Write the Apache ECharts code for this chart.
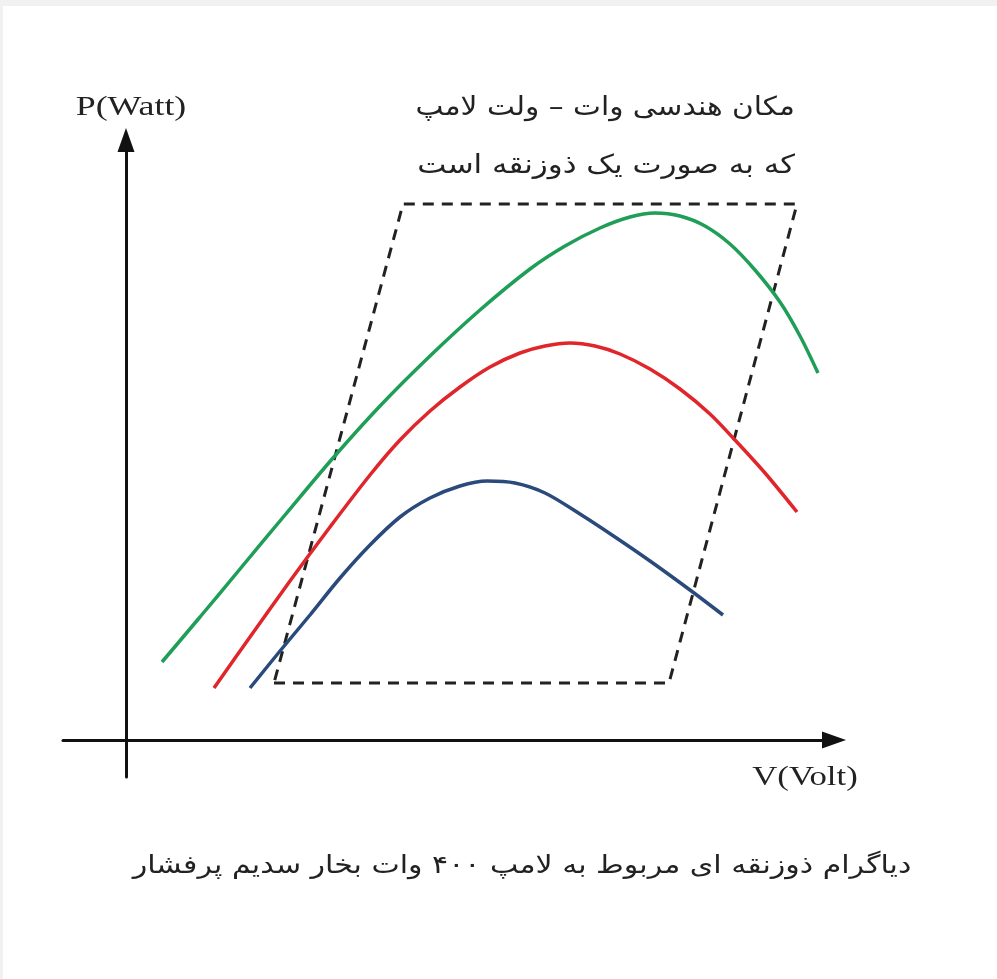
<!DOCTYPE html>
<html>
<head>
<meta charset="utf-8">
<script src="https://cdn.jsdelivr.net/npm/echarts@6/dist/echarts.min.js"></script>
<style>
html, body { margin: 0; padding: 0; background: #fff; }
#main { width: 997px; height: 979px; }
</style>
</head>
<body>
<div id="main"></div>
<script>
// خوانده شده از تصویر (واحد دلخواه)
var greenCurve = [[3.6, 7.8], [7.4, 12.3], [11.4, 17.1], [15.9, 22.5], [20.7, 28.2], [25.4, 33.4], [30.4, 38.4], [35.4, 43.0], [40.4, 47.1], [43.9, 49.4], [47.4, 51.2], [50.4, 52.3], [52.9, 52.7], [55.4, 52.4], [57.9, 51.4], [60.4, 49.6], [62.9, 47.0], [65.4, 43.8], [67.4, 40.4], [69.2, 36.7]];
var redCurve = [[8.8, 5.2], [12.4, 10.3], [16.4, 15.9], [20.4, 21.3], [24.4, 26.5], [27.4, 30.0], [30.4, 32.9], [33.4, 35.3], [36.4, 37.3], [39.4, 38.7], [41.9, 39.4], [44.4, 39.7], [46.9, 39.4], [49.4, 38.6], [52.4, 37.1], [55.4, 35.1], [58.4, 32.6], [60.9, 30.0], [63.9, 26.7], [67.1, 22.8]];
var blueCurve = [[12.4, 5.2], [15.4, 8.9], [18.4, 12.5], [21.4, 16.2], [24.4, 19.5], [27.4, 22.3], [30.4, 24.2], [33.4, 25.4], [36.1, 25.9], [38.9, 25.7], [41.9, 24.7], [45.4, 22.6], [48.9, 20.3], [52.4, 17.9], [56.4, 15.0], [59.7, 12.5]];
var trapezoid = [[14.8, 5.7], [54.3, 5.7], [67.1, 53.6], [27.7, 53.6], [14.8, 5.7]];

var yName = 'P(Watt)';
var xName = 'V(Volt)';
var note1 = 'مکان هندسی وات – ولت لامپ';
var note2 = 'که به صورت یک ذوزنقه است';
var caption = 'دیاگرام ذوزنقه ای مربوط به لامپ ۴۰۰ وات بخار سدیم پرفشار';

var myChart = echarts.init(document.getElementById('main'));

var axisStyle = {
	show: true,
	onZero: true,
	symbol: ['none', 'triangle'],
	symbolSize: [17, 24],
	lineStyle: {
		color: '#111',
		width: 3
	}
};

var option = {
	backgroundColor: '#fff',
	animation: false,
	grid: {
		left: 63,
		right: 163,
		top: 140,
		bottom: 202
	},
	xAxis: {
		type: 'value',
		min: -6.3,
		max: 70.8,
		axisLine: axisStyle,
		axisTick: { show: false },
		axisLabel: { show: false },
		splitLine: { show: false }
	},
	yAxis: {
		type: 'value',
		min: -3.7,
		max: 60,
		axisLine: axisStyle,
		axisTick: { show: false },
		axisLabel: { show: false },
		splitLine: { show: false }
	},
	series: [{
			name: 'trapezoid',
			type: 'line',
			data: trapezoid,
			showSymbol: false,
			lineStyle: {
				color: '#222',
				width: 3,
				type: [11, 8]
			},
			z: 1
		},
		{
			name: 'green',
			type: 'line',
			data: greenCurve,
			smooth: 0.3,
			showSymbol: false,
			lineStyle: {
				color: '#1f9e57',
				width: 3.5
			},
			z: 2
		},
		{
			name: 'red',
			type: 'line',
			data: redCurve,
			smooth: 0.3,
			showSymbol: false,
			lineStyle: {
				color: '#e0252b',
				width: 3.5
			},
			z: 2
		},
		{
			name: 'blue',
			type: 'line',
			data: blueCurve,
			smooth: 0.3,
			showSymbol: false,
			lineStyle: {
				color: '#2a4a7c',
				width: 3.5
			},
			z: 2
		}
	],
	graphic: [
		// حاشیه خاکستری
		{ type: 'rect', left: 0, top: 0, shape: { width: 997, height: 6 }, style: { fill: '#f1f1f1' } },
		{ type: 'rect', left: 0, top: 0, shape: { width: 3, height: 979 }, style: { fill: '#f1f1f1' } },
		{
			type: 'text', x: 131, y: 108, scaleX: 1.28,
			style: { text: yName, font: '28px "Liberation Serif"', fill: '#222', align: 'center', verticalAlign: 'middle' }
		},
		{
			type: 'text', x: 805, y: 778, scaleX: 1.24,
			style: { text: xName, font: '28px "Liberation Serif"', fill: '#222', align: 'center', verticalAlign: 'middle' }
		},
		{
			type: 'text', x: 795, y: 108, scaleX: 1.14,
			style: { text: note1, font: '26px "DejaVu Sans"', fill: '#222', align: 'right', verticalAlign: 'middle' }
		},
		{
			type: 'text', x: 795, y: 166, scaleX: 1.19,
			style: { text: note2, font: '26px "DejaVu Sans"', fill: '#222', align: 'right', verticalAlign: 'middle' }
		},
		{
			type: 'text', x: 522, y: 866, scaleX: 1.2,
			style: { text: caption, font: '25px "DejaVu Sans"', fill: '#222', align: 'center', verticalAlign: 'middle' }
		}
	]
};
myChart.setOption(option);
</script>
</body>
</html>
